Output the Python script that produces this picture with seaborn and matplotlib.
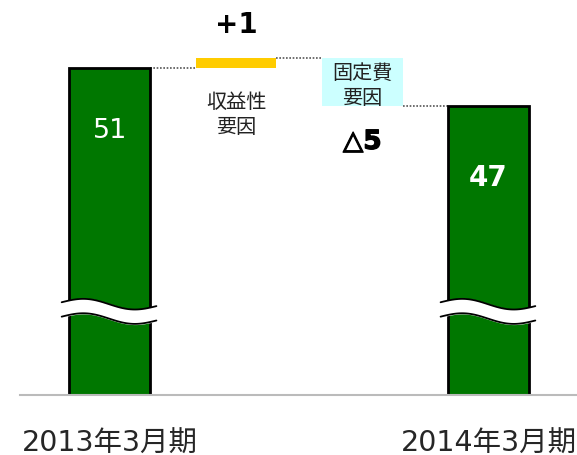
import numpy as np
import matplotlib.pyplot as plt
import matplotlib.patheffects as pe
import seaborn as sns

sns.set_style("white")
plt.rcParams['font.family'] = ['DejaVu Sans', 'Noto Sans CJK JP']

# waterfall data
categories = ["2013年3月期", "収益性要因", "固定費要因", "2014年3月期"]
tick_labels = ["2013年3月期", "", "", "2014年3月期"]
values = [51, 1, -5, 47]
is_total = [True, False, False, True]
value_labels = ["51", "+1", "△5", "47"]
factor_labels = ["", "収益性\n要因", "固定費\n要因", ""]
colors = ["#007700", "#FFCC00", "#CCFFFF", "#007700"]

# running bottoms for the waterfall
bottoms = []
running = 0
for v, tot in zip(values, is_total):
    if tot:
        bottoms.append(0)
        running = v
    else:
        bottoms.append(running)
        running += v

fig = plt.figure(figsize=(5.77, 4.56), dpi=100)
ax = fig.add_axes([20 / 577, 60 / 456, 557 / 577, 396 / 456])

x = np.arange(len(categories))
width = 0.64
for i in range(len(categories)):
    if is_total[i]:
        ax.bar(x[i], values[i], bottom=bottoms[i], width=width, color=colors[i],
               edgecolor="black", linewidth=2, zorder=2)
    else:
        ax.bar(x[i], values[i], bottom=bottoms[i], width=width, color=colors[i],
               linewidth=0, zorder=2)

# dotted connectors between bars
tops = [b + v for b, v in zip(bottoms, values)]
for i in range(len(categories) - 1):
    ax.plot([x[i] + width / 2, x[i + 1] - width / 2], [tops[i], tops[i]],
            color="#555555", lw=1.2, ls=(0, (1, 1)), zorder=1)

# axis break waves on the total bars
t = np.linspace(0, 1, 60)
for i in range(len(categories)):
    if not is_total[i]:
        continue
    xs = x[i] - 0.38 + 0.75 * t
    top = 26.6 + 0.45 * np.sin(2 * np.pi * t) - 0.4 * t
    bot = top - 1.5
    ax.fill_between(xs, bot, top, color="white", zorder=3)
    ax.plot(xs, top, color="black", lw=1.3, zorder=4)
    ax.plot(xs, bot, color="black", lw=1.3, zorder=4)

# value labels
ax.text(x[0], 44.5, value_labels[0], color="white", fontsize=19.5,
        ha="center", va="center", zorder=5)
ax.text(x[3], 39.6, value_labels[3], color="white", fontsize=20, fontweight="bold",
        ha="center", va="center", zorder=5)
ax.text(x[1], 55.6, value_labels[1], color="black", fontsize=20, fontweight="bold",
        ha="center", va="center", zorder=5)
ax.text(x[2], 43.3, value_labels[2], color="black", fontsize=19, fontweight="bold",
        ha="center", va="center", zorder=5,
        path_effects=[pe.withStroke(linewidth=0.9, foreground="black")])

# factor labels
ax.text(x[1], 46.2, factor_labels[1], fontsize=14.5, ha="center", va="center",
        linespacing=1.4, color="#222222", zorder=5)
ax.text(x[2], 49.2, factor_labels[2], fontsize=14.5, ha="center", va="center",
        linespacing=1.4, color="#222222", zorder=5)

ax.set_xlim(-0.71, 3.70)
ax.set_ylim(16.94, 58.19)
ax.set_xticks(x)
ax.set_xticklabels(tick_labels, fontsize=20.5)
ax.tick_params(axis="x", length=0, pad=24)
ax.set_yticks([])
sns.despine(ax=ax, left=True)
ax.spines["bottom"].set_color("#BBBBBB")
ax.spines["bottom"].set_linewidth(1.5)

fig.savefig("out.png", dpi=100)
